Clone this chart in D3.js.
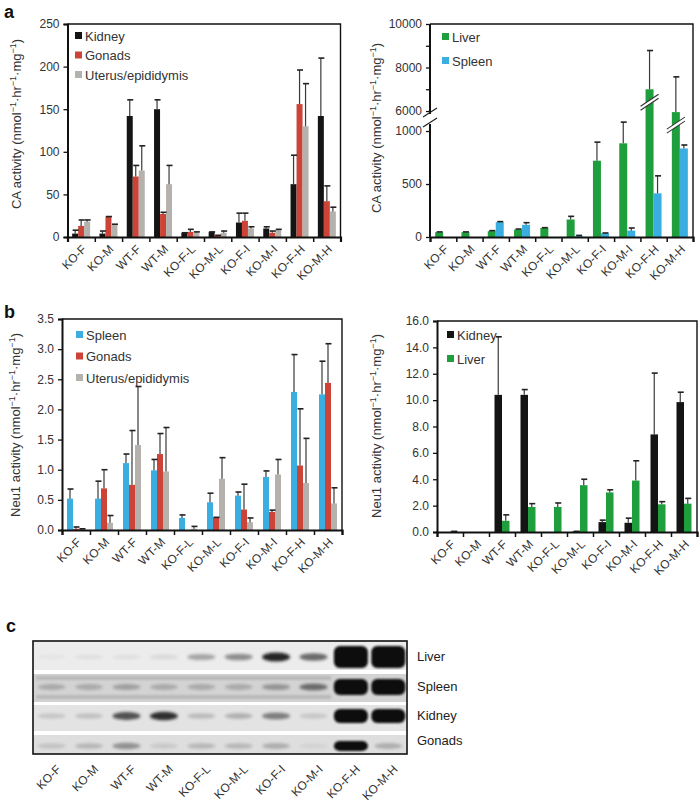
<!DOCTYPE html>
<html><head><meta charset="utf-8">
<script src="https://cdn.jsdelivr.net/npm/d3@7"></script>
<style>body{margin:0;background:#fff} text{font-family:"Liberation Sans",Arial,sans-serif;fill:#333}</style>
</head><body><svg id="c" width="700" height="802"></svg>
<script>
// ---------- DATA ----------
const categories = ["KO-F","KO-M","WT-F","WT-M","KO-F-L","KO-M-L","KO-F-I","KO-M-I","KO-F-H","KO-M-H"];

// Panel a (left): CA activity
const caKidney    = [4, 4, 142, 150, 5, 6, 17, 10, 62, 142];
const caKidneySD  = [4, 3, 19, 11, 0, 0, 11, 2, 34, 68];
const caGonads    = [13, 24, 71, 27, 6, 2, 19, 5, 156, 42];
const caGonadsSD  = [7, 0, 13, 2, 3, 0, 9, 2, 40, 18];
const caUterus    = [18, 14, 78, 62, 5, 5, 10, 8, 130, 30];
const caUterusSD  = [2, 1, 29, 22, 1, 2, 2, 1, 50, 5];
const caLeftTicks = [0, 50, 100, 150, 200, 250];

// Panel a (right): CA activity, broken axis
const caLiver     = [45, 45, 55, 70, 85, 165, 720, 884, 7000, 5950];
const caLiverSD   = [3, 3, 5, 5, 3, 30, 175, 200, 1780, 1620];
const caSpleen    = [0, 0, 140, 115, 0, 10, 35, 60, 412, 835];
const caSpleenSD  = [0, 0, 5, 20, 0, 5, 3, 25, 165, 33];
const caRightTicks = [0, 500, 1000, 6000, 7000, 8000, 9000, 10000];
const caRightLabels = [0, 500, 1000, 6000, 8000, 10000];

// Panel b (left): Neu1 activity
const nSpleen    = [0.52, 0.52, 1.11, 0.99, 0.20, 0.46, 0.57, 0.88, 2.29, 2.25];
const nSpleenSD  = [0.16, 0.29, 0.15, 0.18, 0.05, 0.15, 0.06, 0.10, 0.62, 0.55];
const nGonads    = [0.02, 0.69, 0.75, 1.26, 0, 0.21, 0.34, 0.30, 1.07, 2.44];
const nGonadsSD  = [0.03, 0.31, 0.90, 0.34, 0, 0.0, 0.42, 0.03, 0.94, 0.65];
const nUterus    = [0.02, 0.12, 1.41, 0.97, 0.02, 0.85, 0.13, 0.92, 0.78, 0.44];
const nUterusSD  = [0.0, 0.12, 0.97, 0.73, 0.04, 0.35, 0.07, 0.25, 0.74, 0.26];
const nLeftTicks = [0, 0.5, 1.0, 1.5, 2.0, 2.5, 3.0, 3.5];

// Panel b (right): Neu1 activity
const nKidney    = [0, 0, 10.4, 10.4, 0, 0.05, 0.75, 0.7, 7.4, 9.85];
const nKidneySD  = [0, 0, 4.4, 0.4, 0, 0, 0.15, 0.35, 4.65, 0.75];
const nLiver     = [0.05, 0, 0.85, 1.9, 1.9, 3.55, 3.0, 3.9, 2.1, 2.15];
const nLiverSD   = [0, 0, 0.45, 0.25, 0.3, 0.45, 0.2, 1.5, 0.2, 0.4];
const nRightTicks = [0, 2, 4, 6, 8, 10, 12, 14, 16];

// Panel c: blot band intensities (0..1)
const blotTissues = ["Liver", "Spleen", "Kidney", "Gonads"];
const liverBand  = [0.03, 0.05, 0.05, 0.08, 0.3, 0.4, 0.85, 0.55, 1, 1];
const spleenBand = [0.2, 0.2, 0.25, 0.2, 0.2, 0.2, 0.3, 0.5, 1, 1];
const kidneyBand = [0.12, 0.15, 0.65, 0.8, 0.18, 0.22, 0.45, 0.12, 1, 1];
const gonadBand  = [0.12, 0.18, 0.35, 0.1, 0.18, 0.18, 0.22, 0.05, 0.97, 0.22];

// ---------- STYLE ----------
const C = {black:"#141414", red:"#cc4437", gray:"#b5b1ad", green:"#1f9e3d", blue:"#3aaee0"};
const svg = d3.select("#c");
const defs = svg.append("defs");
defs.append("filter").attr("id","blur").attr("x","-50%").attr("y","-50%").attr("width","200%").attr("height","200%")
  .append("feGaussianBlur").attr("stdDeviation",1.5);
defs.append("filter").attr("id","blur2").attr("x","-50%").attr("y","-50%").attr("width","200%").attr("height","200%")
  .append("feGaussianBlur").attr("stdDeviation",0.9);

function panelLetter(t, x, y){
  svg.append("text").attr("x",x).attr("y",y).text(t)
    .style("font-size","18px").style("font-weight","bold").style("fill","#111");
}

function yLabel(x, y, main){
  const t = svg.append("text").attr("transform",`translate(${x},${y}) rotate(-90)`)
    .attr("text-anchor","middle").style("font-size","13px");
  t.append("tspan").text(main + " (nmol");
  t.append("tspan").attr("dy",-5).style("font-size","9px").text("\u22121");
  t.append("tspan").attr("dy",5).text("\u00b7hr");
  t.append("tspan").attr("dy",-5).style("font-size","9px").text("\u22121");
  t.append("tspan").attr("dy",5).text("\u00b7mg");
  t.append("tspan").attr("dy",-5).style("font-size","9px").text("\u22121");
  t.append("tspan").attr("dy",5).text(")");
}

function legend(x, y, items, gap){
  items.forEach((it,i)=>{
    svg.append("rect").attr("x",x).attr("y",y+i*gap-4).attr("width",7).attr("height",7).attr("fill",it[1]);
    svg.append("text").attr("x",x+10).attr("y",y+i*gap+4.5).text(it[0]).style("font-size","13px");
  });
}

function chart(cfg){
  const {left,right,top,bottom,y,series,barW,ticks,fmt,labelOff} = cfg;
  const x = d3.scaleBand().domain(categories).range([left,right]);
  const g = svg.append("g");
  const n = series.length;
  // bars
  series.forEach((s,j)=>{
    categories.forEach((c,i)=>{
      const v = s.values[i];
      if (v <= 0) return;
      const bx = x(c) + x.bandwidth()/2 - n*barW/2 + j*barW;
      g.append("rect").attr("x",bx).attr("y",y(v)).attr("width",barW)
        .attr("height",Math.max(0.8,y(0)-y(v))).attr("fill",s.color);
    });
  });
  // error bars
  series.forEach((s,j)=>{
    categories.forEach((c,i)=>{
      const v = s.values[i], e = s.sd[i];
      if (v <= 0 && e <= 0) return;
      const cx = x(c) + x.bandwidth()/2 - n*barW/2 + (j+0.5)*barW;
      const y1 = y(v), y2 = y(v+e);
      g.append("line").attr("x1",cx).attr("x2",cx).attr("y1",y1).attr("y2",y2)
        .attr("stroke","#3a3a3a").attr("stroke-width",1.2);
      g.append("line").attr("x1",cx-2.5).attr("x2",cx+3.5).attr("y1",y2).attr("y2",y2)
        .attr("stroke","#222").attr("stroke-width",1.6);
    });
  });
  if (cfg.extra) cfg.extra(g, x);
  // frame
  g.append("path").attr("d",`M${left},${top}H${right}V${bottom}`).attr("fill","none")
    .attr("stroke","#111").attr("stroke-width",1.4);
  // y axis
  const ya = g.append("g").attr("transform",`translate(${left},0)`)
    .call(d3.axisLeft(y).tickValues(ticks).tickFormat(fmt).tickSize(4).tickPadding(4));
  ya.selectAll("text").style("font-size","12px").style("fill","#333").style("font-family","'Liberation Sans',Arial,sans-serif");
  ya.selectAll("line").attr("stroke","#111").attr("stroke-width",1.3);
  ya.select(".domain").attr("stroke","#111").attr("stroke-width",2);
  if (cfg.noDomain) ya.select(".domain").remove();
  // x axis
  const xl = d3.scaleLinear().domain([0,categories.length]).range([left,right]);
  const xa = g.append("g").attr("transform",`translate(0,${bottom})`)
    .call(d3.axisBottom(xl).tickValues(d3.range(categories.length+1)).tickFormat("").tickSize(5));
  xa.selectAll("line").attr("stroke","#111").attr("stroke-width",1.5);
  xa.select(".domain").attr("stroke","#111").attr("stroke-width",2.2);
  // category labels
  categories.forEach(c=>{
    const cx = x(c) + x.bandwidth()/2;
    g.append("text").attr("transform",`translate(${cx+labelOff[0]},${bottom+labelOff[1]}) rotate(-45)`)
      .attr("text-anchor","end").text(c).style("font-size","12px");
  });
  return {g, x};
}

// ---------- PANEL a ----------
panelLetter("a", 4, 18);
const yA1 = d3.scaleLinear().domain([0,250]).range([237,24]);
chart({left:67.5,right:340.5,top:24,bottom:237,y:yA1,barW:6,ticks:caLeftTicks,fmt:d3.format("d"),labelOff:[6,13],
  series:[{values:caKidney,sd:caKidneySD,color:C.black},{values:caGonads,sd:caGonadsSD,color:C.red},{values:caUterus,sd:caUterusSD,color:C.gray}]});
legend(75, 36, [["Kidney",C.black],["Gonads",C.red],["Uterus/epididymis",C.gray]], 19.5);
yLabel(21, 124, "CA activity");

const yA2 = d3.scaleLinear().domain([0,1120,5900,10000]).range([237,118.3,113.2,24]);
const A2 = chart({left:430,right:693,top:24,bottom:237,y:yA2,barW:8,ticks:caRightTicks,
  fmt:d=>caRightLabels.includes(d)?String(d):"",labelOff:[6,13],noDomain:true,
  series:[{values:caLiver,sd:caLiverSD,color:C.green},{values:caSpleen,sd:caSpleenSD,color:C.blue}],
  extra:(g,x)=>{
    // bar break marks on bars that cross the axis break
    categories.forEach((c,i)=>{
      const v = caLiver[i];
      if (v < 5000) return;
      const cx = x(c) + x.bandwidth()/2 - 4;
      const cy = yA2(v) + 13;
      const p = (o)=>`M${cx-9},${cy+6+o}L${cx+9},${cy-6+o}`;
      g.append("path").attr("d",`M${cx-9},${cy+4}L${cx+9},${cy-8}L${cx+9},${cy-4}L${cx-9},${cy+8}Z`).attr("fill","#fff");
      g.append("path").attr("d",p(-2)).attr("stroke","#333").attr("stroke-width",1.1);
      g.append("path").attr("d",p(2)).attr("stroke","#333").attr("stroke-width",1.1);
    });
  }});
// broken y-axis domain
A2.g.append("line").attr("x1",430).attr("x2",430).attr("y1",24).attr("y2",114).attr("stroke","#111").attr("stroke-width",2);
A2.g.append("line").attr("x1",430).attr("x2",430).attr("y1",124).attr("y2",237).attr("stroke","#111").attr("stroke-width",2);
[114,124].forEach(yy=>{
  A2.g.append("line").attr("x1",423).attr("x2",437).attr("y1",yy+3).attr("y2",yy-6)
    .attr("stroke","#222").attr("stroke-width",1.2);
});
legend(442, 37, [["Liver",C.green],["Spleen",C.blue]], 24);
yLabel(381, 128, "CA activity");

// ---------- PANEL b ----------
panelLetter("b", 4, 318);
const yB1 = d3.scaleLinear().domain([0,3.5]).range([530,319]);
chart({left:62,right:342,top:319,bottom:530,y:yB1,barW:6,ticks:nLeftTicks,fmt:d3.format(".1f"),labelOff:[6,13],
  series:[{values:nSpleen,sd:nSpleenSD,color:C.blue},{values:nGonads,sd:nGonadsSD,color:C.red},{values:nUterus,sd:nUterusSD,color:C.gray}]});
legend(76, 335, [["Spleen",C.blue],["Gonads",C.red],["Uterus/epididymis",C.gray]], 21.5);
yLabel(20, 425, "Neu1 activity");

const yB2 = d3.scaleLinear().domain([0,16]).range([532,321]);
chart({left:437,right:697,top:321,bottom:532,y:yB2,barW:7.5,ticks:nRightTicks,fmt:d3.format(".1f"),labelOff:[6,13],
  series:[{values:nKidney,sd:nKidneySD,color:C.black},{values:nLiver,sd:nLiverSD,color:C.green}]});
legend(447, 335, [["Kidney",C.black],["Liver",C.green]], 24);
yLabel(381, 426, "Neu1 activity");

// ---------- PANEL c (blot) ----------
panelLetter("c", 6, 632);
const bx = d3.scaleBand().domain(categories).range([33,407]);
const strips = [
  {name:"Liver",  y0:641, y1:670, bg:"#ececec", band:liverBand,  cy:657, big:22, small:4},
  {name:"Spleen", y0:674, y1:702, bg:"#d3d3d3", band:spleenBand, cy:687, big:16, small:4},
  {name:"Kidney", y0:705, y1:731, bg:"#e3e3e3", band:kidneyBand, cy:716, big:14, small:4},
  {name:"Gonads", y0:735, y1:754, bg:"#dedede", band:gonadBand,  cy:746, big:10, small:4}
];
const blot = svg.append("g");
blot.append("rect").attr("x",33).attr("y",641).attr("width",374).attr("height",113).attr("fill","#fff");
strips.forEach(s=>{
  blot.append("rect").attr("x",33).attr("y",s.y0).attr("width",373).attr("height",s.y1-s.y0).attr("fill",s.bg);
  if (s.name==="Spleen"){
    [678,697].forEach(yy=>{
      blot.append("rect").attr("x",36).attr("y",yy-2).attr("width",295).attr("height",4)
        .attr("fill","#9a9a9a").attr("opacity",0.45).attr("filter","url(#blur2)");
    });
  }
  categories.forEach((c,i)=>{
    const v = s.band[i];
    const cx = bx(c) + bx.bandwidth()/2;
    if (v >= 0.95){
      blot.append("rect").attr("x",cx-17).attr("y",s.cy - s.big/2).attr("width",34).attr("height",s.big)
        .attr("rx",6).attr("fill","#0b0b0b").attr("filter","url(#blur2)");
    } else {
      blot.append("ellipse").attr("cx",cx).attr("cy",s.cy).attr("rx",14).attr("ry",s.small*(0.6+v*0.6))
        .attr("fill","#141414").attr("opacity",Math.min(1,v*1.1)).attr("filter","url(#blur)");
    }
  });
  blot.append("text").attr("x",417).attr("y",(s.name==="Gonads"?745:s.cy+4)).text(s.name).style("font-size","13px").style("fill","#222");
});
blot.append("rect").attr("x",33).attr("y",641).attr("width",374).attr("height",113)
  .attr("fill","none").attr("stroke","#111").attr("stroke-width",1.6);
categories.forEach(c=>{
  const cx = bx(c) + bx.bandwidth()/2;
  svg.append("text").attr("transform",`translate(${cx+10},${770}) rotate(-45)`)
    .attr("text-anchor","end").text(c).style("font-size","12px");
});
</script></body></html>
